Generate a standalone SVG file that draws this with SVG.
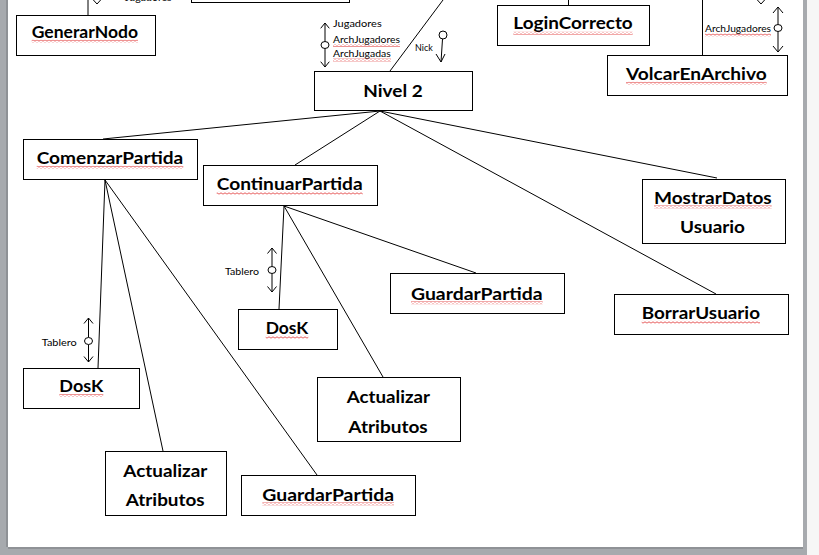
<svg xmlns="http://www.w3.org/2000/svg" width="819" height="555" viewBox="0 0 819 555">
<defs>
<pattern id="sq" width="4" height="3" patternUnits="userSpaceOnUse">
<path d="M-1,2.2 L1,0.8 L3,2.2 L5,0.8" fill="none" stroke="#e03030" stroke-width="0.8"/>
</pattern>
<style>
.box{fill:#fff;stroke:#000;stroke-width:1}
.lbl{font-family:Lato,"Open Sans","Liberation Sans",sans-serif;font-weight:bold;font-size:17px;fill:#000}
.sm{font-family:Lato,"Open Sans","Liberation Sans",sans-serif;font-size:10px;fill:#000}
.ln{stroke:#000;stroke-width:1;fill:none}
.ar{stroke:#000;stroke-width:1;fill:none}
.ci{fill:#fff;stroke:#000;stroke-width:1}
.sp{fill:url(#sq)}
</style>
</defs>
<rect x="0" y="0" width="819" height="555" fill="#f6f6f6"/>
<rect x="0" y="0" width="8" height="555" fill="#a7aaae"/>
<rect x="6" y="0" width="2" height="547" fill="#8f9296"/>
<rect x="0" y="547" width="807" height="8" fill="#a7aaae"/>
<rect x="8" y="547" width="799" height="2" fill="#8f9296"/>
<rect x="803" y="0" width="4" height="555" fill="#a7aaae"/>
<rect x="8" y="0" width="795" height="547" fill="#fff"/>

<g id="connectors">
<line class="ln" x1="88" y1="0" x2="88" y2="15"/>
<line class="ln" x1="568.5" y1="0" x2="568.5" y2="5"/>
<line class="ln" x1="702.5" y1="0" x2="702.5" y2="55"/>
<line class="ln" x1="443" y1="0" x2="390" y2="71"/>
<line class="ln" x1="380" y1="111" x2="103" y2="139"/>
<line class="ln" x1="380" y1="111" x2="295" y2="165"/>
<line class="ln" x1="380" y1="111" x2="717" y2="178"/>
<line class="ln" x1="380" y1="111" x2="716" y2="294"/>
<line class="ln" x1="105" y1="180" x2="98" y2="368"/>
<line class="ln" x1="105" y1="180" x2="163" y2="451"/>
<line class="ln" x1="105" y1="180" x2="317" y2="475"/>
<line class="ln" x1="284" y1="206" x2="279" y2="309"/>
<line class="ln" x1="284" y1="206" x2="383" y2="377"/>
<line class="ln" x1="284" y1="206" x2="476" y2="273"/>
</g>

<g id="flows">
<path class="ar" d="M92.5,-1 L97,4 L101.5,-1"/>
<text class="sm" x="125" y="1" textLength="46.7" lengthAdjust="spacingAndGlyphs">Jugadores</text>
<path class="ar" d="M756.5,-1 L761,4 L765.5,-1"/>

<path class="ar" d="M325,23 L325,41.5 M325,48.5 L325,67 M320.7,28.3 L325,23 L329.3,28.3 M320.7,61.7 L325,67 L329.3,61.7"/>
<ellipse class="ci" cx="325" cy="45" rx="4" ry="3.5"/>
<text class="sm" x="333" y="27" textLength="48.7" lengthAdjust="spacingAndGlyphs">Jugadores</text>
<text class="sm" x="333" y="42.5" textLength="67" lengthAdjust="spacingAndGlyphs">ArchJugadores</text>
<text class="sm" x="333" y="57" textLength="57.7" lengthAdjust="spacingAndGlyphs">ArchJugadas</text>
<rect class="sp" x="333" y="44" width="67" height="3"/>
<rect class="sp" x="333" y="58.5" width="58" height="3"/>

<circle class="ci" cx="443" cy="35" r="4"/>
<path class="ar" d="M442.5,39 L441,62 M436,54 L441,62 L445,54"/>
<text class="sm" x="415" y="50.5" textLength="17.7" lengthAdjust="spacingAndGlyphs">Nick</text>

<path class="ar" d="M778,7 L778,24.5 M778,31.5 L778,52 M773,13 L778,7 L783,13 M773,46 L778,52 L783,46"/>
<ellipse class="ci" cx="778" cy="28" rx="4" ry="3.5"/>
<text class="sm" x="705" y="32.3" textLength="66" lengthAdjust="spacingAndGlyphs">ArchJugadores</text>
<rect class="sp" x="705" y="33.5" width="66" height="3"/>

<path class="ar" d="M272,248 L272,266.5 M272,273.5 L272,292 M267.5,253.5 L272,248 L276.5,253.5 M267.5,286.5 L272,292 L276.5,286.5"/>
<ellipse class="ci" cx="272" cy="270" rx="4" ry="3.5"/>
<text class="sm" x="225" y="275" textLength="34" lengthAdjust="spacingAndGlyphs">Tablero</text>

<path class="ar" d="M88.5,318 L88.5,337.5 M88.5,344.5 L88.5,362 M84,323.5 L88.5,318 L93,323.5 M84,356.5 L88.5,362 L93,356.5"/>
<ellipse class="ci" cx="88.5" cy="341" rx="4" ry="3.5"/>
<text class="sm" x="41.7" y="345.5" textLength="35" lengthAdjust="spacingAndGlyphs">Tablero</text>
</g>

<g id="node-top">
<rect class="box" x="191.5" y="-20" width="158" height="22.5"/>
</g>
<g id="node-generarnodo">
<rect class="box" x="16.5" y="15.5" width="139" height="40"/>
<text class="lbl" x="31.7" y="38.3" textLength="106.3" lengthAdjust="spacingAndGlyphs">GenerarNodo</text>
<rect class="sp" x="31.7" y="39.7" width="106.3" height="3"/>
</g>
<g id="node-logincorrecto">
<rect class="box" x="497.5" y="5.5" width="152" height="40"/>
<text class="lbl" x="513.3" y="29.3" textLength="119.4" lengthAdjust="spacingAndGlyphs">LoginCorrecto</text>
<rect class="sp" x="513.3" y="31.8" width="119.4" height="3"/>
</g>
<g id="node-volcarenarchivo">
<rect class="box" x="607.5" y="55.5" width="180" height="40"/>
<text class="lbl" x="626" y="80" textLength="140.7" lengthAdjust="spacingAndGlyphs">VolcarEnArchivo</text>
<rect class="sp" x="626" y="81.8" width="140.7" height="3"/>
</g>
<g id="node-nivel2">
<rect class="box" x="314.5" y="71.5" width="158" height="39"/>
<text class="lbl" x="363.3" y="96.7" textLength="59.4" lengthAdjust="spacingAndGlyphs">Nivel 2</text>
</g>
<g id="node-comenzarpartida">
<rect class="box" x="23.5" y="139.5" width="174" height="40"/>
<text class="lbl" x="36.7" y="163.7" textLength="146.6" lengthAdjust="spacingAndGlyphs">ComenzarPartida</text>
<rect class="sp" x="36.7" y="165.8" width="146.6" height="3"/>
</g>
<g id="node-continuarpartida">
<rect class="box" x="203.5" y="165.5" width="174" height="40"/>
<text class="lbl" x="216.7" y="189.7" textLength="146" lengthAdjust="spacingAndGlyphs">ContinuarPartida</text>
<rect class="sp" x="216.7" y="191.8" width="146" height="3"/>
</g>
<g id="node-mostrardatosusuario">
<rect class="box" x="642.5" y="179.5" width="143" height="64"/>
<text class="lbl" x="654" y="203.5" textLength="117.7" lengthAdjust="spacingAndGlyphs">MostrarDatos</text>
<rect class="sp" x="654" y="205.3" width="117.7" height="3"/>
<text class="lbl" x="680" y="232.7" textLength="65" lengthAdjust="spacingAndGlyphs">Usuario</text>
</g>
<g id="node-guardarpartida-2">
<rect class="box" x="390.5" y="273.5" width="174" height="40"/>
<text class="lbl" x="411" y="300" textLength="131.7" lengthAdjust="spacingAndGlyphs">GuardarPartida</text>
<rect class="sp" x="411" y="301.2" width="131.7" height="3"/>
</g>
<g id="node-borrarusuario">
<rect class="box" x="614.5" y="294.5" width="174" height="40"/>
<text class="lbl" x="641.7" y="319.3" textLength="118.3" lengthAdjust="spacingAndGlyphs">BorrarUsuario</text>
<rect class="sp" x="641.7" y="320.8" width="118.3" height="3"/>
</g>
<g id="node-dosk-2">
<rect class="box" x="238.5" y="309.5" width="99" height="40"/>
<text class="lbl" x="265.7" y="334.3" textLength="42.6" lengthAdjust="spacingAndGlyphs">DosK</text>
<rect class="sp" x="265.7" y="335.8" width="42.6" height="3"/>
</g>
<g id="node-dosk-1">
<rect class="box" x="23.5" y="368.5" width="116" height="40"/>
<text class="lbl" x="59.3" y="392.3" textLength="44" lengthAdjust="spacingAndGlyphs">DosK</text>
<rect class="sp" x="59.3" y="394" width="44" height="3"/>
</g>
<g id="node-actualizaratributos-2">
<rect class="box" x="317.5" y="377.5" width="143" height="64"/>
<text class="lbl" x="346.7" y="403.3" textLength="83.3" lengthAdjust="spacingAndGlyphs">Actualizar</text>
<text class="lbl" x="348.3" y="432.7" textLength="79.4" lengthAdjust="spacingAndGlyphs">Atributos</text>
</g>
<g id="node-actualizaratributos-1">
<rect class="box" x="105.5" y="451.5" width="121" height="64"/>
<text class="lbl" x="123.3" y="476.7" textLength="84" lengthAdjust="spacingAndGlyphs">Actualizar</text>
<text class="lbl" x="125.7" y="505.7" textLength="79" lengthAdjust="spacingAndGlyphs">Atributos</text>
</g>
<g id="node-guardarpartida-1">
<rect class="box" x="241.5" y="475.5" width="174" height="40"/>
<text class="lbl" x="262.3" y="500.5" textLength="131.7" lengthAdjust="spacingAndGlyphs">GuardarPartida</text>
<rect class="sp" x="262.3" y="502.3" width="131.7" height="3"/>
</g>
</svg>
